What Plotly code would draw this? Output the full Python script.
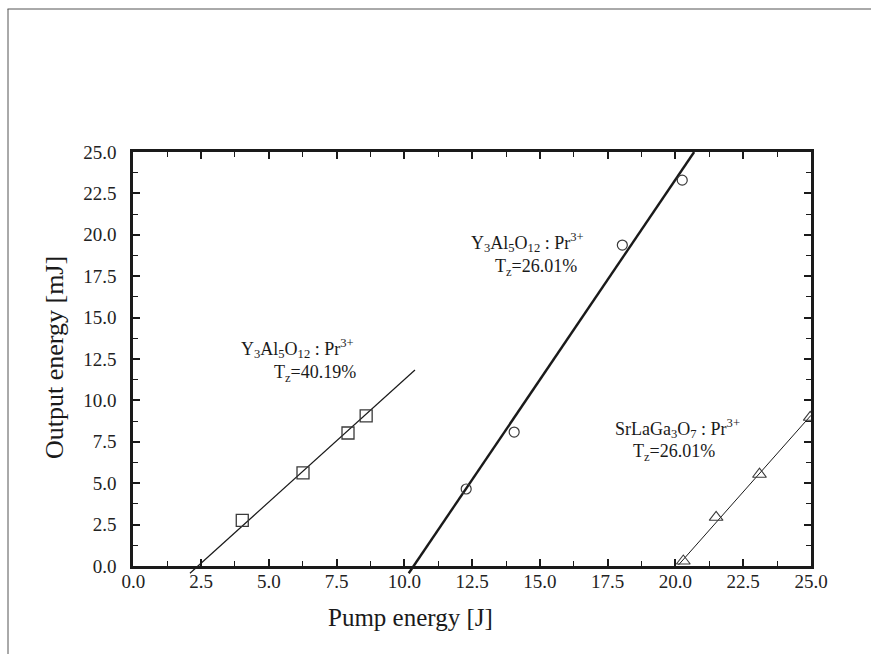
import plotly.graph_objects as go

# ---------------- data ----------------
x_ticks = [0.0, 2.5, 5.0, 7.5, 10.0, 12.5, 15.0, 17.5, 20.0, 22.5, 25.0]
y_ticks = [0.0, 2.5, 5.0, 7.5, 10.0, 12.5, 15.0, 17.5, 20.0, 22.5, 25.0]

yag40_x = [4.02, 6.26, 7.92, 8.59]
yag40_y = [2.75, 5.62, 8.03, 9.06]
yag40_fit_x = [2.09, 10.39]
yag40_fit_y = [-0.44, 11.84]

yag26_x = [12.28, 14.05, 18.04, 20.25]
yag26_y = [4.65, 8.09, 19.38, 23.30]
yag26_fit_x = [10.16, 20.69]
yag26_fit_y = [-0.44, 25.0]

slg_x = [20.29, 21.50, 23.10, 24.97]
slg_y = [0.30, 2.94, 5.54, 8.98]
slg_fit_x = [20.11, 25.0]
slg_fit_y = [0.06, 9.10]

# ---------------- layout geometry ----------------
W, H = 871, 654
ML, MR, MT, MB = 110, 40, 130, 70
PW, PH = W - ML - MR, H - MT - MB
# pixel box of the visible axes
X0, X1, YT, YB = 133.3, 811.0, 152.0, 566.0


def px2paper_x(px):
    return (px - ML) / PW


def px2paper_y(py):
    return (H - MB - py) / PH


xdom = [px2paper_x(X0), px2paper_x(X1)]
ydom = [px2paper_y(YB), px2paper_y(YT)]
sx = 25.0 / (X1 - X0)
sy = 25.0 / (YB - YT)
# invisible base axes span the whole plotting area with the same scale
xb_range = [(ML - X0) * sx, 25.0 + (W - MR - X1) * sx]
yb_range = [-(H - MB - YB) * sy, 25.0 + (YT - MT) * sy]

FONT = "Liberation Serif"
INK = "#1a1a1a"
MK = "#3a3a3a"

fig = go.Figure()

# fit lines on the wide invisible axes so they can run a little past the frame
fig.add_trace(go.Scatter(x=yag40_fit_x, y=yag40_fit_y, mode="lines",
                         line=dict(color=INK, width=1.2),
                         xaxis="x", yaxis="y", showlegend=False, hoverinfo="skip"))
fig.add_trace(go.Scatter(x=yag26_fit_x, y=yag26_fit_y, mode="lines",
                         line=dict(color=INK, width=2.4),
                         xaxis="x", yaxis="y", showlegend=False, hoverinfo="skip"))
fig.add_trace(go.Scatter(x=slg_fit_x, y=slg_fit_y, mode="lines",
                         line=dict(color=INK, width=1.0),
                         xaxis="x", yaxis="y", showlegend=False, hoverinfo="skip"))

fig.add_trace(go.Scatter(x=yag40_x, y=yag40_y, mode="markers",
                         marker=dict(symbol="square-open", size=12, color=MK,
                                     line=dict(width=1.3, color=MK)),
                         xaxis="x2", yaxis="y2", cliponaxis=False, showlegend=False))
fig.add_trace(go.Scatter(x=yag26_x, y=yag26_y, mode="markers",
                         marker=dict(symbol="circle-open", size=10, color=MK,
                                     line=dict(width=1.2, color=MK)),
                         xaxis="x2", yaxis="y2", cliponaxis=False, showlegend=False))
fig.add_trace(go.Scatter(x=slg_x, y=slg_y, mode="markers",
                         marker=dict(symbol="triangle-up-open", size=12, color=MK,
                                     line=dict(width=1.1, color=MK)),
                         xaxis="x2", yaxis="y2", cliponaxis=True, showlegend=False))

axis_common = dict(
    showgrid=False, zeroline=False,
    showline=True, linewidth=3, linecolor=INK, mirror="ticks",
    ticks="inside", ticklen=7, tickwidth=1.6, tickcolor=INK,
    tickformat=".1f",
    tickfont=dict(family=FONT, size=19, color="#222"),
    minor=dict(ticks="inside", ticklen=5, tickwidth=1.3, tickcolor=INK, showgrid=False),
)

fig.update_layout(
    width=W, height=H,
    margin=dict(l=ML, r=MR, t=MT, b=MB, pad=0),
    paper_bgcolor="white", plot_bgcolor="rgba(0,0,0,0)",
    font=dict(family=FONT, color=INK),
    showlegend=False,
    xaxis=dict(domain=[0, 1], range=xb_range, anchor="y",
               visible=False, showgrid=False, zeroline=False),
    yaxis=dict(domain=[0, 1], range=yb_range, anchor="x",
               visible=False, showgrid=False, zeroline=False),
    xaxis2=dict(domain=xdom, range=[0, 25], tickvals=x_ticks, anchor="y2",
                minor_dtick=1.25, minor_tick0=0, ticklabelstandoff=-4, **axis_common),
    yaxis2=dict(domain=ydom, range=[0, 25], tickvals=y_ticks, anchor="x2",
                minor_dtick=1.25, minor_tick0=0, ticklabelstandoff=10, **axis_common),
)

ann_font = dict(family=FONT, size=18, color=INK)
labels = [
    ("Y<sub>3</sub>Al<sub>5</sub>O<sub>12</sub> : Pr<sup>3+</sup>", 6.07, 13.12),
    ("T<sub>z</sub>=40.19%", 6.72, 11.62),
    ("Y<sub>3</sub>Al<sub>5</sub>O<sub>12</sub> : Pr<sup>3+</sup>", 14.54, 19.52),
    ("T<sub>z</sub>=26.01%", 14.85, 18.03),
    ("SrLaGa<sub>3</sub>O<sub>7</sub> : Pr<sup>3+</sup>", 20.07, 8.33),
    ("T<sub>z</sub>=26.01%", 19.94, 6.86),
]
for text, ax_, ay_ in labels:
    fig.add_annotation(x=ax_, y=ay_, xref="x2", yref="y2", text=text, showarrow=False,
                       font=ann_font, xanchor="center", yanchor="middle")

# axis titles
fig.add_annotation(x=px2paper_x(410), y=px2paper_y(617), xref="paper", yref="paper",
                   text="Pump energy [J]", showarrow=False,
                   font=dict(family=FONT, size=25, color=INK),
                   xanchor="center", yanchor="middle")
fig.add_annotation(x=px2paper_x(54), y=px2paper_y(358), xref="paper", yref="paper",
                   text="Output energy [mJ]", showarrow=False, textangle=-90,
                   font=dict(family=FONT, size=26, color=INK),
                   xanchor="center", yanchor="middle")

# outer frame (left and top edges)
fig.add_shape(type="line", xref="paper", yref="paper",
              x0=px2paper_x(8), x1=px2paper_x(8), y0=px2paper_y(9), y1=px2paper_y(H + 2),
              line=dict(color="#555", width=1))
fig.add_shape(type="line", xref="paper", yref="paper",
              x0=px2paper_x(7.5), x1=px2paper_x(W + 2), y0=px2paper_y(9), y1=px2paper_y(9),
              line=dict(color="#555", width=1))

fig.write_html("out.html",
               config={"displayModeBar": False},
               post_script="document.body.style.margin='0';"
                           "document.body.style.overflow='hidden';")
